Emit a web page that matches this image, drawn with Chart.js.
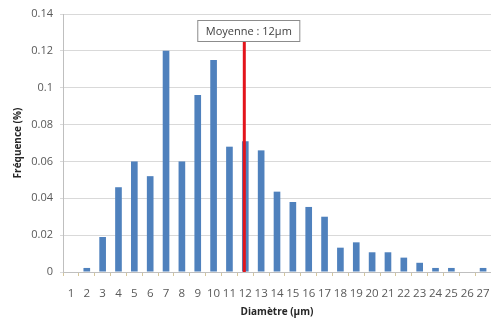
<!DOCTYPE html>
<html>
<head>
<meta charset="utf-8">
<script src="https://cdn.jsdelivr.net/npm/chart.js@4/dist/chart.umd.min.js"></script>
<style>
  html, body { margin: 0; padding: 0; background: #fff; }
  #wrap { width: 491px; height: 327px; }
</style>
</head>
<body>
<div id="wrap"><canvas id="histChart"></canvas></div>
<script>
// diameters (µm) and frequency
const diameters = ['1','2','3','4','5','6','7','8','9','10','11','12','13','14','15','16','17','18','19','20','21','22','23','24','25','26','27'];
const frequencies = [0, 0.0022, 0.019, 0.046, 0.060, 0.052, 0.120, 0.060, 0.096, 0.115, 0.068, 0.071, 0.066, 0.0436, 0.038, 0.0353, 0.030, 0.0132, 0.0161, 0.0107, 0.0107, 0.0078, 0.005, 0.0022, 0.0022, 0, 0.0022];
const meanDiameter = 12;
const meanLabel = 'Moyenne : 12µm';

const fontFamily = '"Open Sans", "Liberation Sans", sans-serif';

// draws the red mean line with its label box
const meanLinePlugin = {
    id: 'meanLine',
    afterDatasetsDraw(chart) {
        const ctx = chart.ctx;
        const x = chart.scales.x.getPixelForValue(meanDiameter - 1) - 1;
        const yScale = chart.scales.y;
        const bottom = yScale.getPixelForValue(0);

        ctx.save();
        ctx.font = '11px ' + fontFamily;
        const textW = ctx.measureText(meanLabel).width;
        const boxW = textW + 16;
        const boxH = 21;
        const boxX = x - boxW / 2 + 4;
        const boxY = 20;

        ctx.strokeStyle = '#e3141b';
        ctx.lineWidth = 3;
        ctx.beginPath();
        ctx.moveTo(x, boxY + boxH);
        ctx.lineTo(x, bottom);
        ctx.stroke();

        ctx.fillStyle = '#ffffff';
        ctx.fillRect(boxX, boxY, boxW, boxH);
        ctx.strokeStyle = '#8c8c8c';
        ctx.lineWidth = 1;
        ctx.strokeRect(boxX + 0.5, boxY + 0.5, boxW, boxH);

        ctx.fillStyle = '#404040';
        ctx.textAlign = 'center';
        ctx.textBaseline = 'middle';
        ctx.fillText(meanLabel, boxX + boxW / 2 + 0.5, boxY + boxH / 2 + 1);
        ctx.restore();
    }
};

const ctx = document.getElementById('histChart').getContext('2d');
window.histChart = new Chart(ctx, {
    type: 'bar',
    data: {
        labels: diameters,
        datasets: [{
            label: 'Fréquence',
            data: frequencies,
            backgroundColor: '#4f81bd',
            borderWidth: 0,
            barPercentage: 0.42,
            categoryPercentage: 1
        }]
    },
    options: {
        responsive: true,
        maintainAspectRatio: false,
        animation: false,
        layout: {
            autoPadding: false,
            padding: { top: 14, right: 0, bottom: 0, left: 0 }
        },
        plugins: {
            legend: { display: false },
            tooltip: { enabled: false }
        },
        scales: {
            x: {
                afterFit: function(scale) {
                    scale.height = 55;
                    scale.paddingLeft = 0;
                    scale.paddingRight = 0;
                },
                grid: {
                    offset: true,
                    drawOnChartArea: false,
                    drawTicks: true,
                    tickLength: 4,
                    color: '#d6c79c'
                },
                border: { color: '#bfbfbf' },
                ticks: {
                    color: '#595959',
                    font: { family: fontFamily, size: 11.5 },
                    padding: 11,
                    maxRotation: 0,
                    autoSkip: false
                },
                title: {
                    display: true,
                    text: 'Diamètre (µm)',
                    color: '#262626',
                    font: { family: fontFamily, size: 10, weight: 'bold' },
                    padding: { top: 2, bottom: 9 }
                }
            },
            y: {
                min: 0,
                max: 0.14,
                afterFit: function(scale) { scale.width = 63; },
                grid: {
                    color: '#d9d9d9',
                    tickLength: 3
                },
                border: { color: '#bfbfbf' },
                ticks: {
                    stepSize: 0.02,
                    color: '#595959',
                    font: { family: fontFamily, size: 11 },
                    padding: 7,
                    callback: function(value) { return String(Number(value.toFixed(2))); }
                },
                title: {
                    display: true,
                    text: 'Fréquence (%)',
                    color: '#262626',
                    font: { family: fontFamily, size: 10, weight: 'bold' },
                    padding: { top: 12, bottom: 4 }
                }
            }
        }
    },
    plugins: [meanLinePlugin]
});
</script>
</body>
</html>
